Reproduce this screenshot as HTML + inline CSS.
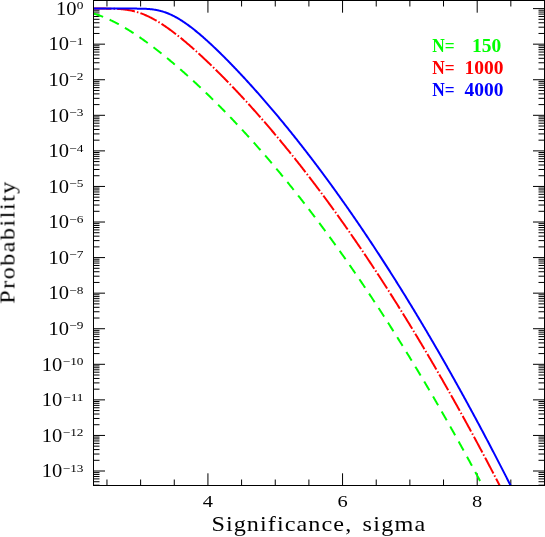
<!DOCTYPE html>
<html><head><meta charset="utf-8"><title>Probability vs Significance</title>
<style>html,body{margin:0;padding:0;background:#fff;}body{width:545px;height:537px;overflow:hidden;font-family:"Liberation Serif",serif;}svg{display:block;will-change:transform;}</style></head>
<body>
<svg width="545" height="537" viewBox="0 0 545 537">
<rect x="0" y="0" width="545" height="537" fill="#fff"/>
<defs><clipPath id="c"><rect x="93.5" y="0.5" width="451.0" height="485.0"/></clipPath></defs>
<path d="M106.96 485.50 V479.50 M106.96 0.50 V6.50 M140.62 485.50 V479.50 M140.62 0.50 V6.50 M174.28 485.50 V479.50 M174.28 0.50 V6.50 M207.93 485.50 V473.30 M207.93 0.50 V12.70 M241.59 485.50 V479.50 M241.59 0.50 V6.50 M275.25 485.50 V479.50 M275.25 0.50 V6.50 M308.90 485.50 V479.50 M308.90 0.50 V6.50 M342.56 485.50 V473.30 M342.56 0.50 V12.70 M376.22 485.50 V479.50 M376.22 0.50 V6.50 M409.87 485.50 V479.50 M409.87 0.50 V6.50 M443.53 485.50 V479.50 M443.53 0.50 V6.50 M477.19 485.50 V473.30 M477.19 0.50 V12.70 M510.84 485.50 V479.50 M510.84 0.50 V6.50 M544.50 485.50 V479.50 M544.50 0.50 V6.50 M93.50 8.60 H105.00 M544.50 8.60 H533.00 M93.50 44.17 H105.00 M544.50 44.17 H533.00 M93.50 33.46 H99.50 M544.50 33.46 H538.50 M93.50 27.20 H99.50 M544.50 27.20 H538.50 M93.50 22.75 H99.50 M544.50 22.75 H538.50 M93.50 19.31 H99.50 M544.50 19.31 H538.50 M93.50 16.49 H99.50 M544.50 16.49 H538.50 M93.50 14.11 H99.50 M544.50 14.11 H538.50 M93.50 12.05 H99.50 M544.50 12.05 H538.50 M93.50 10.23 H99.50 M544.50 10.23 H538.50 M93.50 79.74 H105.00 M544.50 79.74 H533.00 M93.50 69.03 H99.50 M544.50 69.03 H538.50 M93.50 62.77 H99.50 M544.50 62.77 H538.50 M93.50 58.32 H99.50 M544.50 58.32 H538.50 M93.50 54.88 H99.50 M544.50 54.88 H538.50 M93.50 52.06 H99.50 M544.50 52.06 H538.50 M93.50 49.68 H99.50 M544.50 49.68 H538.50 M93.50 47.62 H99.50 M544.50 47.62 H538.50 M93.50 45.80 H99.50 M544.50 45.80 H538.50 M93.50 115.31 H105.00 M544.50 115.31 H533.00 M93.50 104.60 H99.50 M544.50 104.60 H538.50 M93.50 98.34 H99.50 M544.50 98.34 H538.50 M93.50 93.89 H99.50 M544.50 93.89 H538.50 M93.50 90.45 H99.50 M544.50 90.45 H538.50 M93.50 87.63 H99.50 M544.50 87.63 H538.50 M93.50 85.25 H99.50 M544.50 85.25 H538.50 M93.50 83.19 H99.50 M544.50 83.19 H538.50 M93.50 81.37 H99.50 M544.50 81.37 H538.50 M93.50 150.88 H105.00 M544.50 150.88 H533.00 M93.50 140.17 H99.50 M544.50 140.17 H538.50 M93.50 133.91 H99.50 M544.50 133.91 H538.50 M93.50 129.46 H99.50 M544.50 129.46 H538.50 M93.50 126.02 H99.50 M544.50 126.02 H538.50 M93.50 123.20 H99.50 M544.50 123.20 H538.50 M93.50 120.82 H99.50 M544.50 120.82 H538.50 M93.50 118.76 H99.50 M544.50 118.76 H538.50 M93.50 116.94 H99.50 M544.50 116.94 H538.50 M93.50 186.45 H105.00 M544.50 186.45 H533.00 M93.50 175.74 H99.50 M544.50 175.74 H538.50 M93.50 169.48 H99.50 M544.50 169.48 H538.50 M93.50 165.03 H99.50 M544.50 165.03 H538.50 M93.50 161.59 H99.50 M544.50 161.59 H538.50 M93.50 158.77 H99.50 M544.50 158.77 H538.50 M93.50 156.39 H99.50 M544.50 156.39 H538.50 M93.50 154.33 H99.50 M544.50 154.33 H538.50 M93.50 152.51 H99.50 M544.50 152.51 H538.50 M93.50 222.02 H105.00 M544.50 222.02 H533.00 M93.50 211.31 H99.50 M544.50 211.31 H538.50 M93.50 205.05 H99.50 M544.50 205.05 H538.50 M93.50 200.60 H99.50 M544.50 200.60 H538.50 M93.50 197.16 H99.50 M544.50 197.16 H538.50 M93.50 194.34 H99.50 M544.50 194.34 H538.50 M93.50 191.96 H99.50 M544.50 191.96 H538.50 M93.50 189.90 H99.50 M544.50 189.90 H538.50 M93.50 188.08 H99.50 M544.50 188.08 H538.50 M93.50 257.59 H105.00 M544.50 257.59 H533.00 M93.50 246.88 H99.50 M544.50 246.88 H538.50 M93.50 240.62 H99.50 M544.50 240.62 H538.50 M93.50 236.17 H99.50 M544.50 236.17 H538.50 M93.50 232.73 H99.50 M544.50 232.73 H538.50 M93.50 229.91 H99.50 M544.50 229.91 H538.50 M93.50 227.53 H99.50 M544.50 227.53 H538.50 M93.50 225.47 H99.50 M544.50 225.47 H538.50 M93.50 223.65 H99.50 M544.50 223.65 H538.50 M93.50 293.16 H105.00 M544.50 293.16 H533.00 M93.50 282.45 H99.50 M544.50 282.45 H538.50 M93.50 276.19 H99.50 M544.50 276.19 H538.50 M93.50 271.74 H99.50 M544.50 271.74 H538.50 M93.50 268.30 H99.50 M544.50 268.30 H538.50 M93.50 265.48 H99.50 M544.50 265.48 H538.50 M93.50 263.10 H99.50 M544.50 263.10 H538.50 M93.50 261.04 H99.50 M544.50 261.04 H538.50 M93.50 259.22 H99.50 M544.50 259.22 H538.50 M93.50 328.73 H105.00 M544.50 328.73 H533.00 M93.50 318.02 H99.50 M544.50 318.02 H538.50 M93.50 311.76 H99.50 M544.50 311.76 H538.50 M93.50 307.31 H99.50 M544.50 307.31 H538.50 M93.50 303.87 H99.50 M544.50 303.87 H538.50 M93.50 301.05 H99.50 M544.50 301.05 H538.50 M93.50 298.67 H99.50 M544.50 298.67 H538.50 M93.50 296.61 H99.50 M544.50 296.61 H538.50 M93.50 294.79 H99.50 M544.50 294.79 H538.50 M93.50 364.30 H105.00 M544.50 364.30 H533.00 M93.50 353.59 H99.50 M544.50 353.59 H538.50 M93.50 347.33 H99.50 M544.50 347.33 H538.50 M93.50 342.88 H99.50 M544.50 342.88 H538.50 M93.50 339.44 H99.50 M544.50 339.44 H538.50 M93.50 336.62 H99.50 M544.50 336.62 H538.50 M93.50 334.24 H99.50 M544.50 334.24 H538.50 M93.50 332.18 H99.50 M544.50 332.18 H538.50 M93.50 330.36 H99.50 M544.50 330.36 H538.50 M93.50 399.87 H105.00 M544.50 399.87 H533.00 M93.50 389.16 H99.50 M544.50 389.16 H538.50 M93.50 382.90 H99.50 M544.50 382.90 H538.50 M93.50 378.45 H99.50 M544.50 378.45 H538.50 M93.50 375.01 H99.50 M544.50 375.01 H538.50 M93.50 372.19 H99.50 M544.50 372.19 H538.50 M93.50 369.81 H99.50 M544.50 369.81 H538.50 M93.50 367.75 H99.50 M544.50 367.75 H538.50 M93.50 365.93 H99.50 M544.50 365.93 H538.50 M93.50 435.44 H105.00 M544.50 435.44 H533.00 M93.50 424.73 H99.50 M544.50 424.73 H538.50 M93.50 418.47 H99.50 M544.50 418.47 H538.50 M93.50 414.02 H99.50 M544.50 414.02 H538.50 M93.50 410.58 H99.50 M544.50 410.58 H538.50 M93.50 407.76 H99.50 M544.50 407.76 H538.50 M93.50 405.38 H99.50 M544.50 405.38 H538.50 M93.50 403.32 H99.50 M544.50 403.32 H538.50 M93.50 401.50 H99.50 M544.50 401.50 H538.50 M93.50 471.01 H105.00 M544.50 471.01 H533.00 M93.50 460.30 H99.50 M544.50 460.30 H538.50 M93.50 454.04 H99.50 M544.50 454.04 H538.50 M93.50 449.59 H99.50 M544.50 449.59 H538.50 M93.50 446.15 H99.50 M544.50 446.15 H538.50 M93.50 443.33 H99.50 M544.50 443.33 H538.50 M93.50 440.95 H99.50 M544.50 440.95 H538.50 M93.50 438.89 H99.50 M544.50 438.89 H538.50 M93.50 437.07 H99.50 M544.50 437.07 H538.50 M93.50 485.16 H99.50 M544.50 485.16 H538.50 M93.50 481.72 H99.50 M544.50 481.72 H538.50 M93.50 478.90 H99.50 M544.50 478.90 H538.50 M93.50 476.52 H99.50 M544.50 476.52 H538.50 M93.50 474.46 H99.50 M544.50 474.46 H538.50 M93.50 472.64 H99.50 M544.50 472.64 H538.50" stroke="#000" stroke-width="1" fill="none"/>
<g clip-path="url(#c)" fill="none" stroke-width="2">
<path d="M93.50 13.55 L94.14 13.75 L94.79 13.94 L95.43 14.15 L96.08 14.35 L96.72 14.57 L97.37 14.78 L98.01 15.00 L98.65 15.23 L99.30 15.46 L99.94 15.69 L100.59 15.93 L101.23 16.17 L101.88 16.42 L102.52 16.67 L103.16 16.92 L103.81 17.18 L104.45 17.45 L105.10 17.71 L105.74 17.99 L106.39 18.26 L107.03 18.54 L107.67 18.82 L108.32 19.11 L108.96 19.40 L109.61 19.70 L110.25 20.00 L110.90 20.30 L111.54 20.61 L112.18 20.92 L112.83 21.24 L113.47 21.56 L114.12 21.88 L114.76 22.21 L115.41 22.54 L116.05 22.87 L116.69 23.21 L117.34 23.55 L117.98 23.89 L118.63 24.24 L119.27 24.59 L119.92 24.95 L120.56 25.30 L121.20 25.66 L121.85 26.03 L122.49 26.40 L123.14 26.77 L123.78 27.14 L124.43 27.52 L125.07 27.90 L125.71 28.28 L126.36 28.67 L127.00 29.06 L127.65 29.45 L128.29 29.85 L128.94 30.25 L129.58 30.65 L130.22 31.05 L130.87 31.46 L131.51 31.87 L132.16 32.28 L132.80 32.70 L133.45 33.11 L134.09 33.54 L134.73 33.96 L135.38 34.38 L136.02 34.81 L136.67 35.24 L137.31 35.68 L137.96 36.11 L138.60 36.55 L139.24 36.99 L139.89 37.44 L140.53 37.88 L141.18 38.33 L141.82 38.78 L142.47 39.24 L143.11 39.69 L143.75 40.15 L144.40 40.61 L145.04 41.07 L145.69 41.53 L146.33 42.00 L146.98 42.47 L147.62 42.94 L148.26 43.41 L148.91 43.89 L149.55 44.37 L150.20 44.84 L150.84 45.33 L151.49 45.81 L152.13 46.29 L152.77 46.78 L153.42 47.27 L154.06 47.76 L154.71 48.26 L155.35 48.75 L156.00 49.25 L156.64 49.75 L157.28 50.25 L157.93 50.75 L158.57 51.26 L159.22 51.76 L159.86 52.27 L160.51 52.78 L161.15 53.29 L161.79 53.81 L162.44 54.32 L163.08 54.84 L163.73 55.36 L164.37 55.88 L165.02 56.40 L165.66 56.92 L166.30 57.45 L166.95 57.98 L167.59 58.51 L168.24 59.04 L168.88 59.57 L169.53 60.11 L170.17 60.64 L170.81 61.18 L171.46 61.72 L172.10 62.26 L172.75 62.80 L173.39 63.34 L174.04 63.89 L174.68 64.44 L175.32 64.99 L175.97 65.54 L176.61 66.09 L177.26 66.64 L177.90 67.20 L178.55 67.75 L179.19 68.31 L179.83 68.87 L180.48 69.43 L181.12 70.00 L181.77 70.56 L182.41 71.13 L183.06 71.69 L183.70 72.26 L184.34 72.83 L184.99 73.40 L185.63 73.98 L186.28 74.55 L186.92 75.13 L187.57 75.71 L188.21 76.29 L188.85 76.87 L189.50 77.45 L190.14 78.03 L190.79 78.62 L191.43 79.20 L192.08 79.79 L192.72 80.38 L193.36 80.97 L194.01 81.56 L194.65 82.16 L195.30 82.75 L195.94 83.35 L196.59 83.95 L197.23 84.55 L197.87 85.15 L198.52 85.75 L199.16 86.36 L199.81 86.96 L200.45 87.57 L201.10 88.18 L201.74 88.78 L202.38 89.40 L203.03 90.01 L203.67 90.62 L204.32 91.24 L204.96 91.85 L205.61 92.47 L206.25 93.09 L206.89 93.71 L207.54 94.33 L208.18 94.96 L208.83 95.58 L209.47 96.21 L210.12 96.83 L210.76 97.46 L211.40 98.09 L212.05 98.73 L212.69 99.36 L213.34 99.99 L213.98 100.63 L214.63 101.27 L215.27 101.91 L215.91 102.55 L216.56 103.19 L217.20 103.83 L217.85 104.47 L218.49 105.12 L219.14 105.77 L219.78 106.42 L220.42 107.07 L221.07 107.72 L221.71 108.37 L222.36 109.02 L223.00 109.68 L223.65 110.33 L224.29 110.99 L224.93 111.65 L225.58 112.31 L226.22 112.97 L226.87 113.64 L227.51 114.30 L228.16 114.97 L228.80 115.64 L229.44 116.31 L230.09 116.98 L230.73 117.65 L231.38 118.32 L232.02 119.00 L232.67 119.67 L233.31 120.35 L233.95 121.03 L234.60 121.71 L235.24 122.39 L235.89 123.07 L236.53 123.75 L237.18 124.44 L237.82 125.13 L238.46 125.82 L239.11 126.50 L239.75 127.20 L240.40 127.89 L241.04 128.58 L241.69 129.28 L242.33 129.97 L242.97 130.67 L243.62 131.37 L244.26 132.07 L244.91 132.77 L245.55 133.47 L246.20 134.18 L246.84 134.89 L247.48 135.59 L248.13 136.30 L248.77 137.01 L249.42 137.72 L250.06 138.44 L250.71 139.15 L251.35 139.86 L251.99 140.58 L252.64 141.30 L253.28 142.02 L253.93 142.74 L254.57 143.46 L255.22 144.19 L255.86 144.91 L256.50 145.64 L257.15 146.37 L257.79 147.09 L258.44 147.82 L259.08 148.56 L259.73 149.29 L260.37 150.02 L261.01 150.76 L261.66 151.50 L262.30 152.24 L262.95 152.98 L263.59 153.72 L264.24 154.46 L264.88 155.20 L265.52 155.95 L266.17 156.70 L266.81 157.45 L267.46 158.19 L268.10 158.95 L268.75 159.70 L269.39 160.45 L270.03 161.21 L270.68 161.96 L271.32 162.72 L271.97 163.48 L272.61 164.24 L273.26 165.00 L273.90 165.77 L274.54 166.53 L275.19 167.30 L275.83 168.06 L276.48 168.83 L277.12 169.60 L277.77 170.37 L278.41 171.15 L279.05 171.92 L279.70 172.70 L280.34 173.47 L280.99 174.25 L281.63 175.03 L282.28 175.81 L282.92 176.60 L283.56 177.38 L284.21 178.17 L284.85 178.95 L285.50 179.74 L286.14 180.53 L286.79 181.32 L287.43 182.11 L288.07 182.91 L288.72 183.70 L289.36 184.50 L290.01 185.29 L290.65 186.09 L291.30 186.89 L291.94 187.70 L292.58 188.50 L293.23 189.30 L293.87 190.11 L294.52 190.92 L295.16 191.72 L295.81 192.53 L296.45 193.35 L297.09 194.16 L297.74 194.97 L298.38 195.79 L299.03 196.60 L299.67 197.42 L300.32 198.24 L300.96 199.06 L301.60 199.89 L302.25 200.71 L302.89 201.53 L303.54 202.36 L304.18 203.19 L304.83 204.02 L305.47 204.85 L306.11 205.68 L306.76 206.51 L307.40 207.35 L308.05 208.18 L308.69 209.02 L309.34 209.86 L309.98 210.70 L310.62 211.54 L311.27 212.38 L311.91 213.23 L312.56 214.07 L313.20 214.92 L313.85 215.77 L314.49 216.62 L315.13 217.47 L315.78 218.32 L316.42 219.18 L317.07 220.03 L317.71 220.89 L318.36 221.75 L319.00 222.61 L319.64 223.47 L320.29 224.33 L320.93 225.19 L321.58 226.06 L322.22 226.93 L322.87 227.79 L323.51 228.66 L324.15 229.53 L324.80 230.40 L325.44 231.28 L326.09 232.15 L326.73 233.03 L327.38 233.91 L328.02 234.78 L328.66 235.66 L329.31 236.55 L329.95 237.43 L330.60 238.31 L331.24 239.20 L331.89 240.09 L332.53 240.97 L333.17 241.86 L333.82 242.76 L334.46 243.65 L335.11 244.54 L335.75 245.44 L336.40 246.33 L337.04 247.23 L337.68 248.13 L338.33 249.03 L338.97 249.93 L339.62 250.84 L340.26 251.74 L340.91 252.65 L341.55 253.56 L342.19 254.47 L342.84 255.38 L343.48 256.29 L344.13 257.20 L344.77 258.12 L345.42 259.03 L346.06 259.95 L346.70 260.87 L347.35 261.79 L347.99 262.71 L348.64 263.63 L349.28 264.56 L349.93 265.48 L350.57 266.41 L351.21 267.34 L351.86 268.27 L352.50 269.20 L353.15 270.13 L353.79 271.07 L354.44 272.00 L355.08 272.94 L355.72 273.88 L356.37 274.82 L357.01 275.76 L357.66 276.70 L358.30 277.64 L358.95 278.59 L359.59 279.53 L360.23 280.48 L360.88 281.43 L361.52 282.38 L362.17 283.33 L362.81 284.29 L363.46 285.24 L364.10 286.20 L364.74 287.16 L365.39 288.11 L366.03 289.07 L366.68 290.04 L367.32 291.00 L367.97 291.96 L368.61 292.93 L369.25 293.90 L369.90 294.87 L370.54 295.84 L371.19 296.81 L371.83 297.78 L372.48 298.75 L373.12 299.73 L373.76 300.71 L374.41 301.68 L375.05 302.66 L375.70 303.64 L376.34 304.63 L376.99 305.61 L377.63 306.60 L378.27 307.58 L378.92 308.57 L379.56 309.56 L380.21 310.55 L380.85 311.54 L381.50 312.54 L382.14 313.53 L382.78 314.53 L383.43 315.53 L384.07 316.52 L384.72 317.53 L385.36 318.53 L386.01 319.53 L386.65 320.53 L387.29 321.54 L387.94 322.55 L388.58 323.56 L389.23 324.57 L389.87 325.58 L390.52 326.59 L391.16 327.61 L391.80 328.62 L392.45 329.64 L393.09 330.66 L393.74 331.68 L394.38 332.70 L395.03 333.72 L395.67 334.74 L396.31 335.77 L396.96 336.80 L397.60 337.83 L398.25 338.86 L398.89 339.89 L399.54 340.92 L400.18 341.95 L400.82 342.99 L401.47 344.02 L402.11 345.06 L402.76 346.10 L403.40 347.14 L404.05 348.18 L404.69 349.23 L405.33 350.27 L405.98 351.32 L406.62 352.37 L407.27 353.42 L407.91 354.47 L408.56 355.52 L409.20 356.57 L409.84 357.63 L410.49 358.68 L411.13 359.74 L411.78 360.80 L412.42 361.86 L413.07 362.92 L413.71 363.98 L414.35 365.05 L415.00 366.11 L415.64 367.18 L416.29 368.25 L416.93 369.32 L417.58 370.39 L418.22 371.46 L418.86 372.54 L419.51 373.61 L420.15 374.69 L420.80 375.77 L421.44 376.85 L422.09 377.93 L422.73 379.01 L423.37 380.09 L424.02 381.18 L424.66 382.26 L425.31 383.35 L425.95 384.44 L426.60 385.53 L427.24 386.62 L427.88 387.72 L428.53 388.81 L429.17 389.91 L429.82 391.01 L430.46 392.11 L431.11 393.21 L431.75 394.31 L432.39 395.41 L433.04 396.52 L433.68 397.62 L434.33 398.73 L434.97 399.84 L435.62 400.95 L436.26 402.06 L436.90 403.17 L437.55 404.29 L438.19 405.40 L438.84 406.52 L439.48 407.64 L440.13 408.76 L440.77 409.88 L441.41 411.00 L442.06 412.13 L442.70 413.25 L443.35 414.38 L443.99 415.51 L444.64 416.64 L445.28 417.77 L445.92 418.90 L446.57 420.03 L447.21 421.17 L447.86 422.31 L448.50 423.44 L449.15 424.58 L449.79 425.73 L450.43 426.87 L451.08 428.01 L451.72 429.16 L452.37 430.30 L453.01 431.45 L453.66 432.60 L454.30 433.75 L454.94 434.90 L455.59 436.06 L456.23 437.21 L456.88 438.37 L457.52 439.52 L458.17 440.68 L458.81 441.84 L459.45 443.01 L460.10 444.17 L460.74 445.33 L461.39 446.50 L462.03 447.67 L462.68 448.83 L463.32 450.00 L463.96 451.18 L464.61 452.35 L465.25 453.52 L465.90 454.70 L466.54 455.88 L467.19 457.05 L467.83 458.23 L468.47 459.42 L469.12 460.60 L469.76 461.78 L470.41 462.97 L471.05 464.15 L471.70 465.34 L472.34 466.53 L472.98 467.72 L473.63 468.92 L474.27 470.11 L474.92 471.30 L475.56 472.50 L476.21 473.70 L476.85 474.90 L477.49 476.10 L478.14 477.30 L478.78 478.51 L479.43 479.71 L480.07 480.92 L480.72 482.12 L481.36 483.33 L482.00 484.54 L482.65 485.76 L483.29 486.97 L483.94 488.18 L484.58 489.40 L485.23 490.62 L485.87 491.84 L486.51 493.06 L487.16 494.28 L487.80 495.50 L488.45 496.73 L489.09 497.95 L489.74 499.18 L490.38 500.41 L491.02 501.64 L491.67 502.87 L492.31 504.10 L492.96 505.34 L493.60 506.57" stroke="#00ff00" stroke-dasharray="10.2 7.1"/>
<path d="M93.50 8.60 L94.14 8.60 L94.79 8.60 L95.43 8.60 L96.08 8.60 L96.72 8.60 L97.37 8.60 L98.01 8.60 L98.65 8.60 L99.30 8.60 L99.94 8.60 L100.59 8.60 L101.23 8.61 L101.88 8.61 L102.52 8.61 L103.16 8.61 L103.81 8.61 L104.45 8.62 L105.10 8.62 L105.74 8.62 L106.39 8.63 L107.03 8.63 L107.67 8.64 L108.32 8.64 L108.96 8.65 L109.61 8.66 L110.25 8.67 L110.90 8.68 L111.54 8.69 L112.18 8.71 L112.83 8.72 L113.47 8.74 L114.12 8.76 L114.76 8.78 L115.41 8.80 L116.05 8.83 L116.69 8.86 L117.34 8.89 L117.98 8.93 L118.63 8.96 L119.27 9.00 L119.92 9.05 L120.56 9.10 L121.20 9.15 L121.85 9.21 L122.49 9.27 L123.14 9.33 L123.78 9.40 L124.43 9.47 L125.07 9.55 L125.71 9.64 L126.36 9.73 L127.00 9.82 L127.65 9.92 L128.29 10.03 L128.94 10.14 L129.58 10.26 L130.22 10.38 L130.87 10.51 L131.51 10.64 L132.16 10.78 L132.80 10.93 L133.45 11.08 L134.09 11.24 L134.73 11.41 L135.38 11.58 L136.02 11.76 L136.67 11.95 L137.31 12.14 L137.96 12.34 L138.60 12.54 L139.24 12.76 L139.89 12.98 L140.53 13.20 L141.18 13.43 L141.82 13.67 L142.47 13.92 L143.11 14.17 L143.75 14.42 L144.40 14.69 L145.04 14.96 L145.69 15.24 L146.33 15.52 L146.98 15.81 L147.62 16.10 L148.26 16.41 L148.91 16.71 L149.55 17.03 L150.20 17.35 L150.84 17.67 L151.49 18.00 L152.13 18.34 L152.77 18.68 L153.42 19.03 L154.06 19.39 L154.71 19.75 L155.35 20.11 L156.00 20.48 L156.64 20.86 L157.28 21.24 L157.93 21.62 L158.57 22.01 L159.22 22.41 L159.86 22.81 L160.51 23.21 L161.15 23.62 L161.79 24.04 L162.44 24.46 L163.08 24.88 L163.73 25.31 L164.37 25.74 L165.02 26.18 L165.66 26.62 L166.30 27.06 L166.95 27.51 L167.59 27.97 L168.24 28.42 L168.88 28.88 L169.53 29.35 L170.17 29.82 L170.81 30.29 L171.46 30.77 L172.10 31.25 L172.75 31.73 L173.39 32.21 L174.04 32.70 L174.68 33.20 L175.32 33.69 L175.97 34.19 L176.61 34.70 L177.26 35.20 L177.90 35.71 L178.55 36.22 L179.19 36.74 L179.83 37.26 L180.48 37.78 L181.12 38.30 L181.77 38.83 L182.41 39.36 L183.06 39.89 L183.70 40.42 L184.34 40.96 L184.99 41.50 L185.63 42.04 L186.28 42.59 L186.92 43.14 L187.57 43.69 L188.21 44.24 L188.85 44.79 L189.50 45.35 L190.14 45.91 L190.79 46.47 L191.43 47.04 L192.08 47.60 L192.72 48.17 L193.36 48.74 L194.01 49.31 L194.65 49.89 L195.30 50.47 L195.94 51.04 L196.59 51.63 L197.23 52.21 L197.87 52.79 L198.52 53.38 L199.16 53.97 L199.81 54.56 L200.45 55.15 L201.10 55.75 L201.74 56.35 L202.38 56.94 L203.03 57.55 L203.67 58.15 L204.32 58.75 L204.96 59.36 L205.61 59.97 L206.25 60.57 L206.89 61.19 L207.54 61.80 L208.18 62.41 L208.83 63.03 L209.47 63.65 L210.12 64.27 L210.76 64.89 L211.40 65.51 L212.05 66.14 L212.69 66.76 L213.34 67.39 L213.98 68.02 L214.63 68.65 L215.27 69.29 L215.91 69.92 L216.56 70.56 L217.20 71.20 L217.85 71.84 L218.49 72.48 L219.14 73.12 L219.78 73.76 L220.42 74.41 L221.07 75.06 L221.71 75.70 L222.36 76.35 L223.00 77.01 L223.65 77.66 L224.29 78.31 L224.93 78.97 L225.58 79.63 L226.22 80.29 L226.87 80.95 L227.51 81.61 L228.16 82.27 L228.80 82.94 L229.44 83.61 L230.09 84.27 L230.73 84.94 L231.38 85.61 L232.02 86.29 L232.67 86.96 L233.31 87.64 L233.95 88.31 L234.60 88.99 L235.24 89.67 L235.89 90.35 L236.53 91.03 L237.18 91.72 L237.82 92.40 L238.46 93.09 L239.11 93.78 L239.75 94.47 L240.40 95.16 L241.04 95.85 L241.69 96.55 L242.33 97.24 L242.97 97.94 L243.62 98.64 L244.26 99.34 L244.91 100.04 L245.55 100.74 L246.20 101.44 L246.84 102.15 L247.48 102.85 L248.13 103.56 L248.77 104.27 L249.42 104.98 L250.06 105.69 L250.71 106.41 L251.35 107.12 L251.99 107.84 L252.64 108.56 L253.28 109.28 L253.93 110.00 L254.57 110.72 L255.22 111.44 L255.86 112.17 L256.50 112.89 L257.15 113.62 L257.79 114.35 L258.44 115.08 L259.08 115.81 L259.73 116.54 L260.37 117.28 L261.01 118.01 L261.66 118.75 L262.30 119.49 L262.95 120.23 L263.59 120.97 L264.24 121.71 L264.88 122.46 L265.52 123.20 L266.17 123.95 L266.81 124.70 L267.46 125.44 L268.10 126.20 L268.75 126.95 L269.39 127.70 L270.03 128.46 L270.68 129.21 L271.32 129.97 L271.97 130.73 L272.61 131.49 L273.26 132.25 L273.90 133.01 L274.54 133.78 L275.19 134.55 L275.83 135.31 L276.48 136.08 L277.12 136.85 L277.77 137.62 L278.41 138.40 L279.05 139.17 L279.70 139.95 L280.34 140.72 L280.99 141.50 L281.63 142.28 L282.28 143.06 L282.92 143.84 L283.56 144.63 L284.21 145.41 L284.85 146.20 L285.50 146.99 L286.14 147.78 L286.79 148.57 L287.43 149.36 L288.07 150.15 L288.72 150.95 L289.36 151.74 L290.01 152.54 L290.65 153.34 L291.30 154.14 L291.94 154.94 L292.58 155.75 L293.23 156.55 L293.87 157.36 L294.52 158.16 L295.16 158.97 L295.81 159.78 L296.45 160.59 L297.09 161.41 L297.74 162.22 L298.38 163.03 L299.03 163.85 L299.67 164.67 L300.32 165.49 L300.96 166.31 L301.60 167.13 L302.25 167.96 L302.89 168.78 L303.54 169.61 L304.18 170.44 L304.83 171.26 L305.47 172.09 L306.11 172.93 L306.76 173.76 L307.40 174.59 L308.05 175.43 L308.69 176.27 L309.34 177.11 L309.98 177.95 L310.62 178.79 L311.27 179.63 L311.91 180.48 L312.56 181.32 L313.20 182.17 L313.85 183.02 L314.49 183.87 L315.13 184.72 L315.78 185.57 L316.42 186.42 L317.07 187.28 L317.71 188.14 L318.36 188.99 L319.00 189.85 L319.64 190.71 L320.29 191.58 L320.93 192.44 L321.58 193.31 L322.22 194.17 L322.87 195.04 L323.51 195.91 L324.15 196.78 L324.80 197.65 L325.44 198.52 L326.09 199.40 L326.73 200.27 L327.38 201.15 L328.02 202.03 L328.66 202.91 L329.31 203.79 L329.95 204.68 L330.60 205.56 L331.24 206.45 L331.89 207.33 L332.53 208.22 L333.17 209.11 L333.82 210.00 L334.46 210.89 L335.11 211.79 L335.75 212.68 L336.40 213.58 L337.04 214.48 L337.68 215.38 L338.33 216.28 L338.97 217.18 L339.62 218.08 L340.26 218.99 L340.91 219.90 L341.55 220.80 L342.19 221.71 L342.84 222.62 L343.48 223.53 L344.13 224.45 L344.77 225.36 L345.42 226.28 L346.06 227.20 L346.70 228.11 L347.35 229.03 L347.99 229.96 L348.64 230.88 L349.28 231.80 L349.93 232.73 L350.57 233.66 L351.21 234.58 L351.86 235.51 L352.50 236.45 L353.15 237.38 L353.79 238.31 L354.44 239.25 L355.08 240.18 L355.72 241.12 L356.37 242.06 L357.01 243.00 L357.66 243.95 L358.30 244.89 L358.95 245.83 L359.59 246.78 L360.23 247.73 L360.88 248.68 L361.52 249.63 L362.17 250.58 L362.81 251.53 L363.46 252.49 L364.10 253.44 L364.74 254.40 L365.39 255.36 L366.03 256.32 L366.68 257.28 L367.32 258.25 L367.97 259.21 L368.61 260.18 L369.25 261.14 L369.90 262.11 L370.54 263.08 L371.19 264.05 L371.83 265.03 L372.48 266.00 L373.12 266.98 L373.76 267.95 L374.41 268.93 L375.05 269.91 L375.70 270.89 L376.34 271.87 L376.99 272.86 L377.63 273.84 L378.27 274.83 L378.92 275.82 L379.56 276.81 L380.21 277.80 L380.85 278.79 L381.50 279.78 L382.14 280.78 L382.78 281.77 L383.43 282.77 L384.07 283.77 L384.72 284.77 L385.36 285.77 L386.01 286.78 L386.65 287.78 L387.29 288.79 L387.94 289.79 L388.58 290.80 L389.23 291.81 L389.87 292.83 L390.52 293.84 L391.16 294.85 L391.80 295.87 L392.45 296.89 L393.09 297.90 L393.74 298.92 L394.38 299.94 L395.03 300.97 L395.67 301.99 L396.31 303.02 L396.96 304.04 L397.60 305.07 L398.25 306.10 L398.89 307.13 L399.54 308.16 L400.18 309.20 L400.82 310.23 L401.47 311.27 L402.11 312.31 L402.76 313.35 L403.40 314.39 L404.05 315.43 L404.69 316.47 L405.33 317.52 L405.98 318.56 L406.62 319.61 L407.27 320.66 L407.91 321.71 L408.56 322.76 L409.20 323.82 L409.84 324.87 L410.49 325.93 L411.13 326.98 L411.78 328.04 L412.42 329.10 L413.07 330.17 L413.71 331.23 L414.35 332.29 L415.00 333.36 L415.64 334.43 L416.29 335.49 L416.93 336.56 L417.58 337.63 L418.22 338.71 L418.86 339.78 L419.51 340.86 L420.15 341.93 L420.80 343.01 L421.44 344.09 L422.09 345.17 L422.73 346.26 L423.37 347.34 L424.02 348.42 L424.66 349.51 L425.31 350.60 L425.95 351.69 L426.60 352.78 L427.24 353.87 L427.88 354.96 L428.53 356.06 L429.17 357.16 L429.82 358.25 L430.46 359.35 L431.11 360.45 L431.75 361.55 L432.39 362.66 L433.04 363.76 L433.68 364.87 L434.33 365.98 L434.97 367.08 L435.62 368.19 L436.26 369.31 L436.90 370.42 L437.55 371.53 L438.19 372.65 L438.84 373.77 L439.48 374.89 L440.13 376.01 L440.77 377.13 L441.41 378.25 L442.06 379.37 L442.70 380.50 L443.35 381.63 L443.99 382.75 L444.64 383.88 L445.28 385.02 L445.92 386.15 L446.57 387.28 L447.21 388.42 L447.86 389.55 L448.50 390.69 L449.15 391.83 L449.79 392.97 L450.43 394.11 L451.08 395.26 L451.72 396.40 L452.37 397.55 L453.01 398.70 L453.66 399.85 L454.30 401.00 L454.94 402.15 L455.59 403.30 L456.23 404.46 L456.88 405.61 L457.52 406.77 L458.17 407.93 L458.81 409.09 L459.45 410.25 L460.10 411.41 L460.74 412.58 L461.39 413.75 L462.03 414.91 L462.68 416.08 L463.32 417.25 L463.96 418.42 L464.61 419.60 L465.25 420.77 L465.90 421.95 L466.54 423.12 L467.19 424.30 L467.83 425.48 L468.47 426.66 L469.12 427.84 L469.76 429.03 L470.41 430.21 L471.05 431.40 L471.70 432.59 L472.34 433.78 L472.98 434.97 L473.63 436.16 L474.27 437.36 L474.92 438.55 L475.56 439.75 L476.21 440.95 L476.85 442.15 L477.49 443.35 L478.14 444.55 L478.78 445.75 L479.43 446.96 L480.07 448.16 L480.72 449.37 L481.36 450.58 L482.00 451.79 L482.65 453.00 L483.29 454.22 L483.94 455.43 L484.58 456.65 L485.23 457.86 L485.87 459.08 L486.51 460.30 L487.16 461.53 L487.80 462.75 L488.45 463.97 L489.09 465.20 L489.74 466.43 L490.38 467.65 L491.02 468.88 L491.67 470.12 L492.31 471.35 L492.96 472.58 L493.60 473.82 L494.25 475.06 L494.89 476.29 L495.53 477.53 L496.18 478.78 L496.82 480.02 L497.47 481.26 L498.11 482.51 L498.76 483.75 L499.40 485.00 L500.04 486.25 L500.69 487.50 L501.33 488.76 L501.98 490.01 L502.62 491.27 L503.27 492.52 L503.91 493.78 L504.55 495.04 L505.20 496.30 L505.84 497.56 L506.49 498.83 L507.13 500.09 L507.78 501.36 L508.42 502.62 L509.06 503.89 L509.71 505.16 L510.35 506.44" stroke="#ff0000" stroke-dasharray="17.9 2.15 1.5 2.15"/>
<path d="M93.50 8.60 L94.14 8.60 L94.79 8.60 L95.43 8.60 L96.08 8.60 L96.72 8.60 L97.37 8.60 L98.01 8.60 L98.65 8.60 L99.30 8.60 L99.94 8.60 L100.59 8.60 L101.23 8.60 L101.88 8.60 L102.52 8.60 L103.16 8.60 L103.81 8.60 L104.45 8.60 L105.10 8.60 L105.74 8.60 L106.39 8.60 L107.03 8.60 L107.67 8.60 L108.32 8.60 L108.96 8.60 L109.61 8.60 L110.25 8.60 L110.90 8.60 L111.54 8.60 L112.18 8.60 L112.83 8.60 L113.47 8.60 L114.12 8.60 L114.76 8.60 L115.41 8.60 L116.05 8.60 L116.69 8.60 L117.34 8.60 L117.98 8.60 L118.63 8.60 L119.27 8.60 L119.92 8.60 L120.56 8.60 L121.20 8.60 L121.85 8.60 L122.49 8.60 L123.14 8.60 L123.78 8.60 L124.43 8.60 L125.07 8.60 L125.71 8.60 L126.36 8.60 L127.00 8.60 L127.65 8.60 L128.29 8.60 L128.94 8.60 L129.58 8.60 L130.22 8.60 L130.87 8.60 L131.51 8.60 L132.16 8.60 L132.80 8.61 L133.45 8.61 L134.09 8.61 L134.73 8.61 L135.38 8.61 L136.02 8.62 L136.67 8.62 L137.31 8.63 L137.96 8.63 L138.60 8.64 L139.24 8.65 L139.89 8.66 L140.53 8.67 L141.18 8.68 L141.82 8.69 L142.47 8.71 L143.11 8.73 L143.75 8.75 L144.40 8.77 L145.04 8.80 L145.69 8.83 L146.33 8.86 L146.98 8.90 L147.62 8.94 L148.26 8.99 L148.91 9.04 L149.55 9.09 L150.20 9.15 L150.84 9.21 L151.49 9.28 L152.13 9.36 L152.77 9.44 L153.42 9.53 L154.06 9.62 L154.71 9.72 L155.35 9.82 L156.00 9.94 L156.64 10.06 L157.28 10.18 L157.93 10.32 L158.57 10.46 L159.22 10.61 L159.86 10.77 L160.51 10.93 L161.15 11.10 L161.79 11.28 L162.44 11.47 L163.08 11.67 L163.73 11.87 L164.37 12.08 L165.02 12.30 L165.66 12.53 L166.30 12.77 L166.95 13.01 L167.59 13.27 L168.24 13.53 L168.88 13.79 L169.53 14.07 L170.17 14.35 L170.81 14.65 L171.46 14.95 L172.10 15.25 L172.75 15.57 L173.39 15.89 L174.04 16.22 L174.68 16.56 L175.32 16.90 L175.97 17.25 L176.61 17.61 L177.26 17.98 L177.90 18.35 L178.55 18.73 L179.19 19.11 L179.83 19.51 L180.48 19.90 L181.12 20.31 L181.77 20.72 L182.41 21.14 L183.06 21.56 L183.70 21.99 L184.34 22.42 L184.99 22.86 L185.63 23.31 L186.28 23.76 L186.92 24.22 L187.57 24.68 L188.21 25.15 L188.85 25.62 L189.50 26.10 L190.14 26.58 L190.79 27.07 L191.43 27.56 L192.08 28.05 L192.72 28.55 L193.36 29.06 L194.01 29.57 L194.65 30.08 L195.30 30.60 L195.94 31.12 L196.59 31.65 L197.23 32.18 L197.87 32.71 L198.52 33.25 L199.16 33.79 L199.81 34.33 L200.45 34.88 L201.10 35.43 L201.74 35.99 L202.38 36.55 L203.03 37.11 L203.67 37.67 L204.32 38.24 L204.96 38.81 L205.61 39.39 L206.25 39.96 L206.89 40.54 L207.54 41.13 L208.18 41.71 L208.83 42.30 L209.47 42.89 L210.12 43.49 L210.76 44.08 L211.40 44.68 L212.05 45.28 L212.69 45.89 L213.34 46.49 L213.98 47.10 L214.63 47.71 L215.27 48.33 L215.91 48.94 L216.56 49.56 L217.20 50.18 L217.85 50.81 L218.49 51.43 L219.14 52.06 L219.78 52.69 L220.42 53.32 L221.07 53.95 L221.71 54.59 L222.36 55.23 L223.00 55.87 L223.65 56.51 L224.29 57.15 L224.93 57.80 L225.58 58.45 L226.22 59.10 L226.87 59.75 L227.51 60.40 L228.16 61.06 L228.80 61.71 L229.44 62.37 L230.09 63.03 L230.73 63.69 L231.38 64.36 L232.02 65.02 L232.67 65.69 L233.31 66.36 L233.95 67.03 L234.60 67.70 L235.24 68.38 L235.89 69.05 L236.53 69.73 L237.18 70.41 L237.82 71.09 L238.46 71.77 L239.11 72.46 L239.75 73.14 L240.40 73.83 L241.04 74.52 L241.69 75.21 L242.33 75.90 L242.97 76.59 L243.62 77.29 L244.26 77.99 L244.91 78.68 L245.55 79.38 L246.20 80.08 L246.84 80.79 L247.48 81.49 L248.13 82.20 L248.77 82.90 L249.42 83.61 L250.06 84.32 L250.71 85.03 L251.35 85.75 L251.99 86.46 L252.64 87.18 L253.28 87.89 L253.93 88.61 L254.57 89.33 L255.22 90.06 L255.86 90.78 L256.50 91.50 L257.15 92.23 L257.79 92.96 L258.44 93.69 L259.08 94.42 L259.73 95.15 L260.37 95.88 L261.01 96.62 L261.66 97.35 L262.30 98.09 L262.95 98.83 L263.59 99.57 L264.24 100.31 L264.88 101.05 L265.52 101.80 L266.17 102.55 L266.81 103.29 L267.46 104.04 L268.10 104.79 L268.75 105.54 L269.39 106.30 L270.03 107.05 L270.68 107.81 L271.32 108.56 L271.97 109.32 L272.61 110.08 L273.26 110.84 L273.90 111.61 L274.54 112.37 L275.19 113.14 L275.83 113.90 L276.48 114.67 L277.12 115.44 L277.77 116.21 L278.41 116.99 L279.05 117.76 L279.70 118.53 L280.34 119.31 L280.99 120.09 L281.63 120.87 L282.28 121.65 L282.92 122.43 L283.56 123.22 L284.21 124.00 L284.85 124.79 L285.50 125.58 L286.14 126.36 L286.79 127.15 L287.43 127.95 L288.07 128.74 L288.72 129.53 L289.36 130.33 L290.01 131.13 L290.65 131.93 L291.30 132.73 L291.94 133.53 L292.58 134.33 L293.23 135.14 L293.87 135.94 L294.52 136.75 L295.16 137.56 L295.81 138.37 L296.45 139.18 L297.09 139.99 L297.74 140.80 L298.38 141.62 L299.03 142.44 L299.67 143.26 L300.32 144.07 L300.96 144.90 L301.60 145.72 L302.25 146.54 L302.89 147.37 L303.54 148.19 L304.18 149.02 L304.83 149.85 L305.47 150.68 L306.11 151.51 L306.76 152.35 L307.40 153.18 L308.05 154.02 L308.69 154.85 L309.34 155.69 L309.98 156.53 L310.62 157.37 L311.27 158.22 L311.91 159.06 L312.56 159.91 L313.20 160.75 L313.85 161.60 L314.49 162.45 L315.13 163.30 L315.78 164.16 L316.42 165.01 L317.07 165.86 L317.71 166.72 L318.36 167.58 L319.00 168.44 L319.64 169.30 L320.29 170.16 L320.93 171.03 L321.58 171.89 L322.22 172.76 L322.87 173.62 L323.51 174.49 L324.15 175.36 L324.80 176.24 L325.44 177.11 L326.09 177.98 L326.73 178.86 L327.38 179.74 L328.02 180.62 L328.66 181.50 L329.31 182.38 L329.95 183.26 L330.60 184.14 L331.24 185.03 L331.89 185.92 L332.53 186.81 L333.17 187.70 L333.82 188.59 L334.46 189.48 L335.11 190.37 L335.75 191.27 L336.40 192.16 L337.04 193.06 L337.68 193.96 L338.33 194.86 L338.97 195.77 L339.62 196.67 L340.26 197.57 L340.91 198.48 L341.55 199.39 L342.19 200.30 L342.84 201.21 L343.48 202.12 L344.13 203.03 L344.77 203.95 L345.42 204.86 L346.06 205.78 L346.70 206.70 L347.35 207.62 L347.99 208.54 L348.64 209.46 L349.28 210.39 L349.93 211.31 L350.57 212.24 L351.21 213.17 L351.86 214.10 L352.50 215.03 L353.15 215.96 L353.79 216.90 L354.44 217.83 L355.08 218.77 L355.72 219.71 L356.37 220.65 L357.01 221.59 L357.66 222.53 L358.30 223.47 L358.95 224.42 L359.59 225.37 L360.23 226.31 L360.88 227.26 L361.52 228.21 L362.17 229.16 L362.81 230.12 L363.46 231.07 L364.10 232.03 L364.74 232.99 L365.39 233.95 L366.03 234.91 L366.68 235.87 L367.32 236.83 L367.97 237.79 L368.61 238.76 L369.25 239.73 L369.90 240.70 L370.54 241.67 L371.19 242.64 L371.83 243.61 L372.48 244.58 L373.12 245.56 L373.76 246.54 L374.41 247.52 L375.05 248.50 L375.70 249.48 L376.34 250.46 L376.99 251.44 L377.63 252.43 L378.27 253.41 L378.92 254.40 L379.56 255.39 L380.21 256.38 L380.85 257.37 L381.50 258.37 L382.14 259.36 L382.78 260.36 L383.43 261.36 L384.07 262.36 L384.72 263.36 L385.36 264.36 L386.01 265.36 L386.65 266.37 L387.29 267.37 L387.94 268.38 L388.58 269.39 L389.23 270.40 L389.87 271.41 L390.52 272.42 L391.16 273.44 L391.80 274.45 L392.45 275.47 L393.09 276.49 L393.74 277.51 L394.38 278.53 L395.03 279.55 L395.67 280.58 L396.31 281.60 L396.96 282.63 L397.60 283.66 L398.25 284.69 L398.89 285.72 L399.54 286.75 L400.18 287.78 L400.82 288.82 L401.47 289.85 L402.11 290.89 L402.76 291.93 L403.40 292.97 L404.05 294.02 L404.69 295.06 L405.33 296.10 L405.98 297.15 L406.62 298.20 L407.27 299.25 L407.91 300.30 L408.56 301.35 L409.20 302.40 L409.84 303.46 L410.49 304.51 L411.13 305.57 L411.78 306.63 L412.42 307.69 L413.07 308.75 L413.71 309.81 L414.35 310.88 L415.00 311.94 L415.64 313.01 L416.29 314.08 L416.93 315.15 L417.58 316.22 L418.22 317.29 L418.86 318.37 L419.51 319.44 L420.15 320.52 L420.80 321.60 L421.44 322.68 L422.09 323.76 L422.73 324.84 L423.37 325.92 L424.02 327.01 L424.66 328.10 L425.31 329.18 L425.95 330.27 L426.60 331.36 L427.24 332.46 L427.88 333.55 L428.53 334.64 L429.17 335.74 L429.82 336.84 L430.46 337.94 L431.11 339.04 L431.75 340.14 L432.39 341.24 L433.04 342.35 L433.68 343.45 L434.33 344.56 L434.97 345.67 L435.62 346.78 L436.26 347.89 L436.90 349.00 L437.55 350.12 L438.19 351.23 L438.84 352.35 L439.48 353.47 L440.13 354.59 L440.77 355.71 L441.41 356.83 L442.06 357.96 L442.70 359.08 L443.35 360.21 L443.99 361.34 L444.64 362.47 L445.28 363.60 L445.92 364.73 L446.57 365.87 L447.21 367.00 L447.86 368.14 L448.50 369.28 L449.15 370.42 L449.79 371.56 L450.43 372.70 L451.08 373.84 L451.72 374.99 L452.37 376.13 L453.01 377.28 L453.66 378.43 L454.30 379.58 L454.94 380.73 L455.59 381.89 L456.23 383.04 L456.88 384.20 L457.52 385.36 L458.17 386.51 L458.81 387.67 L459.45 388.84 L460.10 390.00 L460.74 391.16 L461.39 392.33 L462.03 393.50 L462.68 394.67 L463.32 395.84 L463.96 397.01 L464.61 398.18 L465.25 399.35 L465.90 400.53 L466.54 401.71 L467.19 402.89 L467.83 404.07 L468.47 405.25 L469.12 406.43 L469.76 407.61 L470.41 408.80 L471.05 409.99 L471.70 411.17 L472.34 412.36 L472.98 413.55 L473.63 414.75 L474.27 415.94 L474.92 417.14 L475.56 418.33 L476.21 419.53 L476.85 420.73 L477.49 421.93 L478.14 423.13 L478.78 424.34 L479.43 425.54 L480.07 426.75 L480.72 427.96 L481.36 429.16 L482.00 430.38 L482.65 431.59 L483.29 432.80 L483.94 434.02 L484.58 435.23 L485.23 436.45 L485.87 437.67 L486.51 438.89 L487.16 440.11 L487.80 441.33 L488.45 442.56 L489.09 443.78 L489.74 445.01 L490.38 446.24 L491.02 447.47 L491.67 448.70 L492.31 449.93 L492.96 451.17 L493.60 452.40 L494.25 453.64 L494.89 454.88 L495.53 456.12 L496.18 457.36 L496.82 458.60 L497.47 459.85 L498.11 461.09 L498.76 462.34 L499.40 463.59 L500.04 464.84 L500.69 466.09 L501.33 467.34 L501.98 468.59 L502.62 469.85 L503.27 471.11 L503.91 472.36 L504.55 473.62 L505.20 474.88 L505.84 476.15 L506.49 477.41 L507.13 478.68 L507.78 479.94 L508.42 481.21 L509.06 482.48 L509.71 483.75 L510.35 485.02 L511.00 486.29 L511.64 487.57 L512.29 488.85 L512.93 490.12 L513.57 491.40 L514.22 492.68 L514.86 493.96 L515.51 495.25 L516.15 496.53 L516.80 497.82 L517.44 499.11 L518.08 500.39 L518.73 501.68 L519.37 502.98 L520.02 504.27 L520.66 505.56" stroke="#0000ff"/>
</g>
<rect x="93.5" y="0.5" width="451.0" height="485.0" fill="none" stroke="#000" stroke-width="1"/>
<g fill="#000" font-family="Liberation Serif, serif" style="opacity:0.999">
<g transform="translate(83.5 14.90)">
<text transform="translate(0 -5.6) scale(1.180 1)" text-anchor="end" font-size="11.3">0</text>
<text transform="translate(-6.97 0) scale(1.140 1)" text-anchor="end" font-size="18.0">10</text>
</g>
<g transform="translate(83.5 50.47)">
<text transform="translate(0 -5.6) scale(1.180 1)" text-anchor="end" font-size="11.3">−1</text>
<text transform="translate(-14.50 0) scale(1.140 1)" text-anchor="end" font-size="18.0">10</text>
</g>
<g transform="translate(83.5 86.04)">
<text transform="translate(0 -5.6) scale(1.180 1)" text-anchor="end" font-size="11.3">−2</text>
<text transform="translate(-14.50 0) scale(1.140 1)" text-anchor="end" font-size="18.0">10</text>
</g>
<g transform="translate(83.5 121.61)">
<text transform="translate(0 -5.6) scale(1.180 1)" text-anchor="end" font-size="11.3">−3</text>
<text transform="translate(-14.50 0) scale(1.140 1)" text-anchor="end" font-size="18.0">10</text>
</g>
<g transform="translate(83.5 157.18)">
<text transform="translate(0 -5.6) scale(1.180 1)" text-anchor="end" font-size="11.3">−4</text>
<text transform="translate(-14.50 0) scale(1.140 1)" text-anchor="end" font-size="18.0">10</text>
</g>
<g transform="translate(83.5 192.75)">
<text transform="translate(0 -5.6) scale(1.180 1)" text-anchor="end" font-size="11.3">−5</text>
<text transform="translate(-14.50 0) scale(1.140 1)" text-anchor="end" font-size="18.0">10</text>
</g>
<g transform="translate(83.5 228.32)">
<text transform="translate(0 -5.6) scale(1.180 1)" text-anchor="end" font-size="11.3">−6</text>
<text transform="translate(-14.50 0) scale(1.140 1)" text-anchor="end" font-size="18.0">10</text>
</g>
<g transform="translate(83.5 263.89)">
<text transform="translate(0 -5.6) scale(1.180 1)" text-anchor="end" font-size="11.3">−7</text>
<text transform="translate(-14.50 0) scale(1.140 1)" text-anchor="end" font-size="18.0">10</text>
</g>
<g transform="translate(83.5 299.46)">
<text transform="translate(0 -5.6) scale(1.180 1)" text-anchor="end" font-size="11.3">−8</text>
<text transform="translate(-14.50 0) scale(1.140 1)" text-anchor="end" font-size="18.0">10</text>
</g>
<g transform="translate(83.5 335.03)">
<text transform="translate(0 -5.6) scale(1.180 1)" text-anchor="end" font-size="11.3">−9</text>
<text transform="translate(-14.50 0) scale(1.140 1)" text-anchor="end" font-size="18.0">10</text>
</g>
<g transform="translate(83.5 370.60)">
<text transform="translate(0 -5.6) scale(1.180 1)" text-anchor="end" font-size="11.3">−10</text>
<text transform="translate(-21.17 0) scale(1.140 1)" text-anchor="end" font-size="18.0">10</text>
</g>
<g transform="translate(83.5 406.17)">
<text transform="translate(0 -5.6) scale(1.180 1)" text-anchor="end" font-size="11.3">−11</text>
<text transform="translate(-21.17 0) scale(1.140 1)" text-anchor="end" font-size="18.0">10</text>
</g>
<g transform="translate(83.5 441.74)">
<text transform="translate(0 -5.6) scale(1.180 1)" text-anchor="end" font-size="11.3">−12</text>
<text transform="translate(-21.17 0) scale(1.140 1)" text-anchor="end" font-size="18.0">10</text>
</g>
<g transform="translate(83.5 477.31)">
<text transform="translate(0 -5.6) scale(1.180 1)" text-anchor="end" font-size="11.3">−13</text>
<text transform="translate(-21.17 0) scale(1.140 1)" text-anchor="end" font-size="18.0">10</text>
</g>
<text transform="translate(207.93 506.7) scale(1.17 1)" text-anchor="middle" font-size="17.5">4</text>
<text transform="translate(342.56 506.7) scale(1.17 1)" text-anchor="middle" font-size="17.5">6</text>
<text transform="translate(477.19 506.7) scale(1.17 1)" text-anchor="middle" font-size="17.5">8</text>
<text transform="translate(211.4 531.4) scale(1.180 1)" font-size="20.5" textLength="118.47" lengthAdjust="spacing">Significance,</text>
<text transform="translate(362.6 531.4) scale(1.180 1)" font-size="20.5" textLength="53.05" lengthAdjust="spacing">sigma</text>
<text transform="translate(14.5 303.8) rotate(-90) scale(1.180 1)" font-size="20.5" textLength="103.56" lengthAdjust="spacing">Probability</text>
</g>
<g font-family="Liberation Serif, serif" font-weight="bold" font-size="17.8" style="opacity:0.999">
<text transform="translate(432.3 51.70) scale(0.975 1)" fill="#00ff00">N=</text>
<text transform="translate(501.2 51.70) scale(1.095 1)" text-anchor="end" fill="#00ff00">150</text>
<text transform="translate(432.3 73.90) scale(0.975 1)" fill="#ff0000">N=</text>
<text transform="translate(503.4 73.90) scale(1.095 1)" text-anchor="end" fill="#ff0000">1000</text>
<text transform="translate(432.3 96.10) scale(0.975 1)" fill="#0000ff">N=</text>
<text transform="translate(503.4 96.10) scale(1.095 1)" text-anchor="end" fill="#0000ff">4000</text>
</g>
</svg>
</body></html>
